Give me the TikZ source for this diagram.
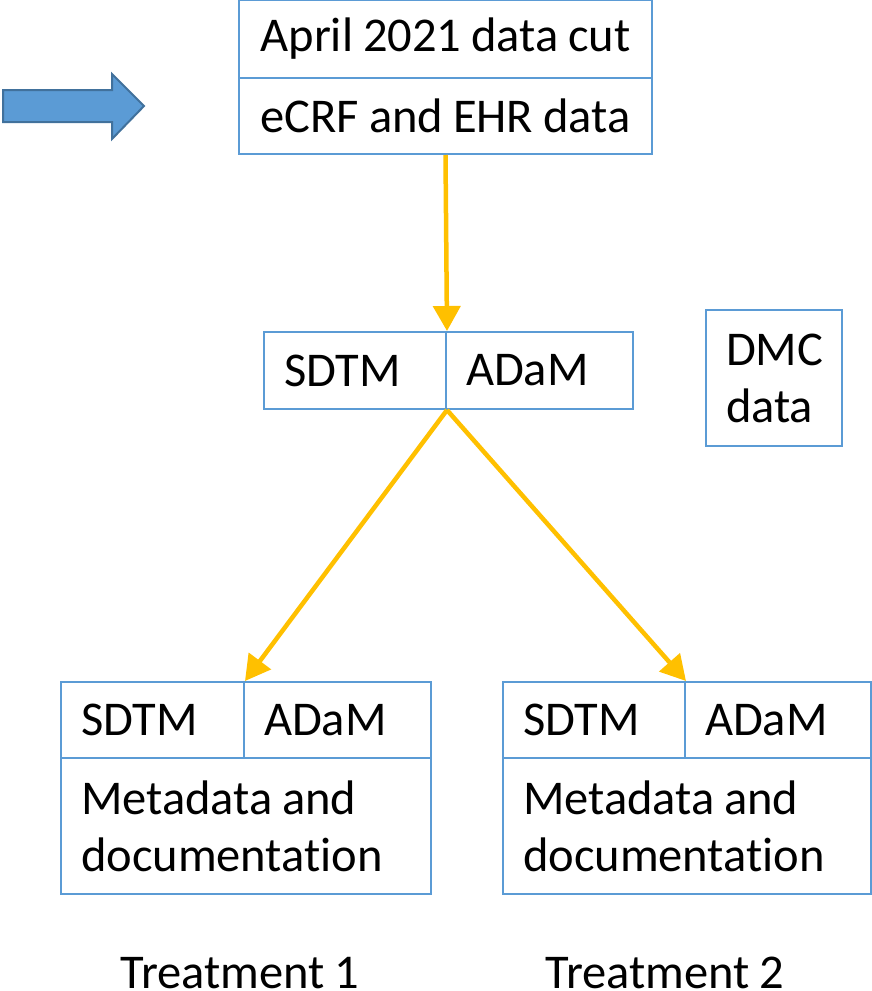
\documentclass[tikz,border=0pt]{standalone}
\usepackage{fontspec}
\setmainfont[Ligatures=NoCommon,WordSpace=0.9]{Carlito}
\usetikzlibrary{arrows.meta}
\definecolor{boxblue}{HTML}{5B9BD5}
\definecolor{arrowedge}{HTML}{41719C}
\definecolor{flowgold}{HTML}{FFC000}
\tikzset{
  cell/.style={draw=boxblue, line width=2pt, anchor=north west, inner xsep=20pt,
    inner ysep=0pt, align=flush left, font=\fontsize{48.5}{57}\selectfont},
  wide/.style={cell, inner xsep=0pt, align=center, minimum width=413pt},
  flow/.style={draw=flowgold, line width=4.5pt, -{Triangle[width=27pt,length=25pt]}},
}
\begin{document}
\begin{tikzpicture}[x=1pt,y=-1pt]
    \useasboundingbox (0,0) rectangle (871,991);
    % big arrow on the left
    \draw[fill=boxblue, draw=arrowedge, line width=2pt, line join=miter]
        (3,90) -- (112,90) -- (112,74) -- (144,106) -- (112,139) -- (112,122) -- (3,122) -- cycle ;
    % top box
    \node[wide, minimum height=78pt] (cut) at (238,-1) {April 2021 data cut} ;
    \node[wide, minimum height=76pt] (ecrf) at (238,77) {eCRF and EHR data} ;
    % middle box
    \node[cell, text width=142pt, minimum height=77pt] (sdtm) at (263,331) {SDTM} ;
    \node[cell, text width=147pt, minimum height=77pt] (adam) at (445,331) {ADaM} ;
    \node[cell, text width=96pt, minimum height=136pt] (dmc) at (705,309) {DMC\\data} ;
    % treatment 1
    \node[cell, text width=143pt, minimum height=76pt] (sdtmL) at (60,681) {SDTM} ;
    \node[cell, text width=147pt, minimum height=76pt] (adamL) at (243,681) {ADaM} ;
    \node[cell, text width=330pt, minimum height=136pt] (metaL) at (60,757) {Metadata and\\documentation} ;
    % treatment 2
    \node[cell, text width=142pt, minimum height=76pt] (sdtmR) at (502,681) {SDTM} ;
    \node[cell, text width=146pt, minimum height=76pt] (adamR) at (684,681) {ADaM} ;
    \node[cell, text width=328pt, minimum height=136pt] (metaR) at (502,757) {Metadata and\\documentation} ;
    \draw[flow] (ecrf.south) -- (sdtm.north east) ;
    \draw[flow] (sdtm.south east) -- (sdtmL.north east) ;
    \draw[flow] (sdtm.south east) -- (sdtmR.north east) ;
    \node[anchor=base, inner sep=0pt, font=\fontsize{48.5}{57}\selectfont] (treat1) at (240,988) {Treatment 1} ;
    \node[anchor=base, inner sep=0pt, font=\fontsize{48.5}{57}\selectfont] (treat2) at (665,988) {Treatment 2} ;
\end{tikzpicture}
\end{document}
